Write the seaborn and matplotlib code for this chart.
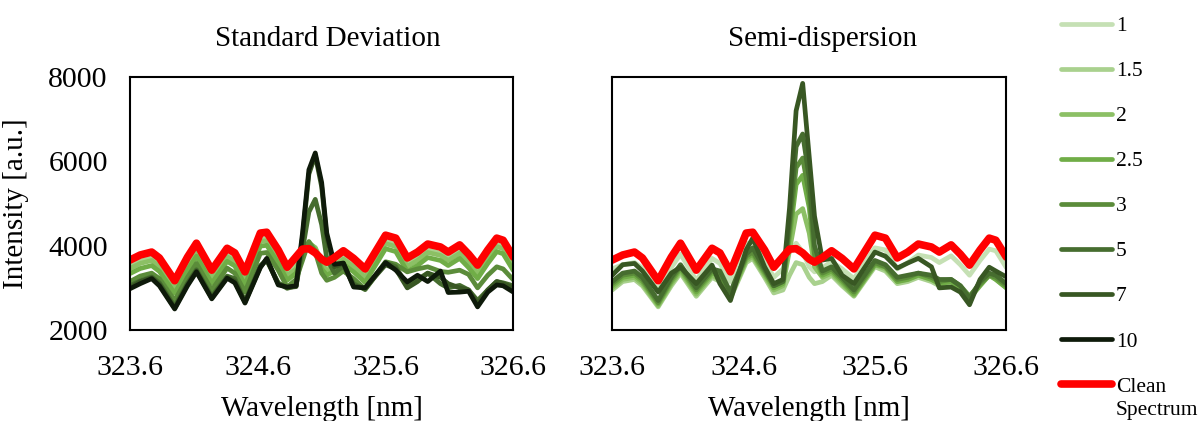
import matplotlib
matplotlib.use("Agg")
import matplotlib.pyplot as plt
import seaborn as sns
import pandas as pd
from matplotlib.lines import Line2D

sns.set_theme(style="white")
plt.rcParams['font.family'] = ['Liberation Serif', 'DejaVu Serif']
plt.rcParams['text.color'] = 'black'
plt.rcParams['axes.labelcolor'] = 'black'
plt.rcParams['xtick.color'] = 'black'
plt.rcParams['ytick.color'] = 'black'

wavelength = [323.60, 323.68, 323.77, 323.83, 323.95, 324.05, 324.12, 324.24, 324.36, 324.42,
              324.50, 324.62, 324.67, 324.76, 324.83, 324.90, 324.95, 325.00, 325.05, 325.10,
              325.14, 325.20, 325.27, 325.35, 325.44, 325.60, 325.68, 325.77, 325.85, 325.93,
              326.03, 326.09, 326.18, 326.25, 326.32, 326.40, 326.47, 326.52, 326.60]

clean = [3660, 3780, 3850, 3710, 3170, 3730, 4060, 3420, 3940, 3830, 3380, 4300, 4320, 3900, 3490,
         3740, 3920, 3930, 3830, 3680, 3610, 3720, 3880, 3700, 3450, 4250, 4180, 3710, 3850, 4040,
         3970, 3850, 4020, 3800, 3540, 3900, 4180, 4130, 3730]

# Standard Deviation panel
sd_1 = [3590, 3700, 3770, 3630, 3090, 3650, 3980, 3340, 3860, 3750, 3300, 4220, 4240, 3820, 3410,
        3600, 3900, 4050, 3950, 3650, 3530, 3640, 3800, 3620, 3370, 4170, 4100, 3630, 3770, 3960,
        3890, 3770, 3940, 3720, 3460, 3820, 4100, 4050, 3650]
sd_1_5 = [3510, 3630, 3700, 3560, 3020, 3580, 3910, 3270, 3790, 3680, 3230, 4150, 4170, 3750, 3340,
          3520, 3850, 4060, 3950, 3600, 3460, 3570, 3730, 3550, 3300, 4100, 4030, 3560, 3700, 3890,
          3820, 3700, 3870, 3650, 3390, 3750, 4030, 3980, 3580]
sd_2 = [3460, 3580, 3650, 3510, 2970, 3530, 3860, 3220, 3740, 3630, 3180, 4100, 4120, 3700, 3290,
        3450, 3800, 4070, 3950, 3550, 3410, 3520, 3680, 3500, 3250, 4050, 3980, 3510, 3650, 3840,
        3770, 3650, 3820, 3600, 3340, 3700, 3980, 3930, 3530]
sd_2_5 = [3340, 3460, 3530, 3390, 2870, 3420, 3750, 3110, 3630, 3520, 3070, 3990, 4010, 3590, 3180,
          3350, 3750, 4080, 3900, 3450, 3300, 3400, 3560, 3380, 3130, 3930, 3860, 3390, 3530, 3720,
          3650, 3530, 3700, 3480, 3220, 3580, 3860, 3810, 3410]
sd_3 = [3150, 3280, 3350, 3220, 2700, 3250, 3580, 2950, 3470, 3350, 2900, 3820, 3840, 3420, 3020,
        3200, 3650, 4100, 3850, 3350, 3180, 3250, 3400, 3220, 2970, 3620, 3560, 3380, 3450, 3500,
        3390, 3370, 3420, 3320, 3000, 3300, 3500, 3450, 3190]
sd_5 = [3050, 3170, 3260, 3120, 2560, 3110, 3430, 2800, 3280, 3220, 2680, 3530, 3650, 3120, 2990,
        3050, 3900, 4800, 5100, 4500, 3700, 3350, 3520, 3100, 2960, 3600, 3500, 3050, 3200, 3350,
        3100, 3000, 3060, 2950, 2700, 2950, 3150, 3120, 3050]
sd_7 = [3000, 3150, 3240, 3080, 2520, 3080, 3400, 2760, 3250, 3160, 2660, 3500, 3680, 3100, 3010,
        3030, 4200, 5700, 6150, 5400, 4200, 3500, 3580, 3050, 3000, 3550, 3450, 3000, 3150, 3350,
        3250, 3100, 3000, 2950, 2620, 2950, 3150, 3100, 3000]
sd_10 = [2980, 3100, 3220, 3050, 2500, 3050, 3380, 2740, 3230, 3120, 2640, 3480, 3700, 3070, 3020,
         3050, 4300, 5800, 6200, 5500, 4300, 3560, 3590, 3020, 3000, 3600, 3420, 3140, 3300, 3150,
         3400, 2890, 2900, 2920, 2550, 2900, 3070, 3050, 2900]

# Semi-dispersion panel
sdisp_1 = [3450, 3550, 3600, 3470, 2950, 3480, 3800, 3180, 3700, 3580, 3150, 4050, 4080, 3650, 3250,
           3450, 3850, 4060, 3850, 3500, 3380, 3480, 3620, 3450, 3220, 3950, 3900, 3450, 3600, 3780,
           3720, 3600, 3760, 3550, 3300, 3650, 3920, 3880, 3480]
sdisp_1_5 = [2950, 3150, 3200, 3050, 2550, 3050, 3350, 2800, 3250, 3150, 2750, 3600, 3700, 3250, 2880,
             2950, 3300, 3600, 3550, 3250, 3100, 3150, 3300, 3050, 2800, 3500, 3400, 3100, 3150, 3250,
             3150, 3050, 3100, 2950, 2800, 3100, 3300, 3200, 3000]
sdisp_2 = [3000, 3200, 3250, 3100, 2580, 3100, 3400, 2850, 3300, 3200, 2780, 3650, 3750, 3300, 2950,
           3050, 3900, 4750, 4880, 4300, 3500, 3250, 3350, 3100, 2820, 3550, 3450, 3150, 3200, 3300,
           3200, 3100, 3150, 3000, 2780, 3100, 3300, 3250, 3020]
sdisp_2_5 = [3050, 3250, 3300, 3150, 2620, 3150, 3450, 2900, 3350, 3300, 2820, 3700, 3800, 3350, 3000,
             3100, 4200, 5450, 5670, 4900, 3700, 3300, 3400, 3150, 2850, 3550, 3500, 3150, 3200, 3300,
             3200, 3100, 3150, 3000, 2750, 3050, 3300, 3200, 3000]
sdisp_3 = [3100, 3300, 3350, 3200, 2650, 3200, 3500, 2950, 3400, 3350, 2850, 3750, 3850, 3400, 3050,
           3150, 4400, 5850, 6080, 5200, 3800, 3350, 3450, 3200, 2900, 3600, 3500, 3200, 3250, 3350,
           3250, 3150, 3200, 3050, 2800, 3100, 3300, 3250, 3050]
sdisp_5 = [3150, 3350, 3400, 3250, 2700, 3250, 3550, 3000, 3450, 3400, 2900, 3800, 3950, 3450, 3050,
           3150, 4600, 6350, 6650, 5600, 4000, 3400, 3500, 3250, 2950, 3650, 3550, 3250, 3300, 3350,
           3300, 3200, 3200, 3050, 2750, 3150, 3350, 3300, 3100]
sdisp_7 = [3300, 3550, 3580, 3400, 2900, 3350, 3490, 3100, 3540, 3100, 2700, 3900, 4180, 3500, 3100,
           3200, 4900, 7200, 7850, 6100, 4700, 3660, 3700, 3300, 3100, 3850, 3750, 3470, 3590, 3700,
           3500, 3000, 3020, 2900, 2600, 3200, 3490, 3400, 3260]

labels = ["1", "1.5", "2", "2.5", "3", "5", "7", "10"]
colors = ["#c5e0b4", "#a9d18e", "#8cc065", "#70ad47", "#5b8c3a", "#466d2f", "#385723", "#0e1a0a"]
palette = dict(zip(labels, colors))
clean_color = "#ff0000"

sd_series = dict(zip(labels, [sd_1, sd_1_5, sd_2, sd_2_5, sd_3, sd_5, sd_7, sd_10]))
sdisp_series = dict(zip(labels[:7], [sdisp_1, sdisp_1_5, sdisp_2, sdisp_2_5, sdisp_3, sdisp_5, sdisp_7]))


def long_df(series):
    rows = []
    for lab, vals in series.items():
        for w, v in zip(wavelength, vals):
            rows.append({"wl": w, "val": v, "series": lab})
    return pd.DataFrame(rows)


clean_df = pd.DataFrame({"wl": wavelength, "val": clean})

fig = plt.figure(figsize=(11.98, 4.21), dpi=100)
ax1 = fig.add_axes([0.1085, 0.216, 0.320, 0.601])
ax2 = fig.add_axes([0.511, 0.216, 0.329, 0.601])

for ax, series, title, tx in [(ax1, sd_series, "Standard Deviation", 0.517),
                              (ax2, sdisp_series, "Semi-dispersion", 0.533)]:
    df = long_df(series)
    sns.lineplot(data=df, x="wl", y="val", hue="series", hue_order=list(series.keys()),
                 palette=palette, linewidth=3.4, estimator=None, sort=False, ax=ax, legend=False)
    sns.lineplot(data=clean_df, x="wl", y="val", color=clean_color, linewidth=5.5,
                 estimator=None, sort=False, ax=ax, legend=False)
    ax.set_xlim(323.6, 326.6)
    ax.set_ylim(2000, 8000)
    ax.set_xticks([323.6, 324.6, 325.6, 326.6])
    ax.set_xticklabels(["323.6", "324.6", "325.6", "326.6"])
    ax.set_yticks([2000, 4000, 6000, 8000])
    ax.tick_params(axis="x", length=0, pad=18, labelsize=21.5)
    ax.tick_params(axis="y", length=0, pad=16, labelsize=21.5)
    ax.set_xlabel("Wavelength [nm]", fontsize=21, labelpad=11)
    ax.set_title(title, fontsize=21, pad=22, x=tx)
    for sp in ax.spines.values():
        sp.set_visible(True)
        sp.set_color("black")
        sp.set_linewidth(1.5)
    ax.grid(False)

ax1.set_ylabel("Intensity [a.u.]", fontsize=21, labelpad=14)
ax2.set_ylabel("")
ax2.set_yticklabels([])

handles = [Line2D([0], [0], color=c, linewidth=3.4) for c in colors]
handles.append(Line2D([0], [0], color=clean_color, linewidth=5.5))
leg_labels = labels + ["Clean"]
leg = fig.legend(handles, leg_labels, loc="upper left", bbox_to_anchor=(0.872, 1.0), frameon=False,
                 fontsize=15.5, handlelength=2.4, handletextpad=0.15, labelspacing=1.16,
                 borderaxespad=0.35)

fig.canvas.draw()
last_txt = leg.get_texts()[-1]
bb = last_txt.get_window_extent(renderer=fig.canvas.get_renderer())
inv = fig.transFigure.inverted()
x0, y0 = inv.transform((bb.x0, bb.y0))
fig.text(x0, y0 - 0.01, "Spectrum", fontsize=15.5, ha="left", va="top", color="black")

fig.savefig("out.png", dpi=100)
